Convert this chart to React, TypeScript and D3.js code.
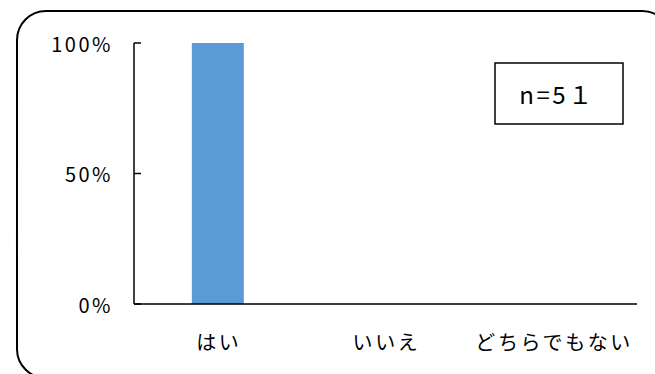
import React from "react";
import * as d3 from "d3";

const categories = ["はい", "いいえ", "どちらでもない"];
const values = [1.0, 0, 0];
const yTicks = [0, 0.5, 1];
const tickLabels = ["0%", "50%", "100%"];
const noteText = "n=5１";

const W = 655;
const H = 374;
const FONT = "'Noto Sans CJK JP', 'Noto Sans', sans-serif";

export default function App() {
  const left = 134, right = 637, top = 43, bottom = 304;
  const x = d3.scaleBand<string>().domain(categories).range([left, right]).paddingInner(0.69).paddingOuter(0.345);
  const xc = d3.scaleBand<string>().domain(categories).range([left, right]);
  const y = d3.scaleLinear().domain([0, 1]).range([bottom, top]);

  return (
    <svg width={W} height={H} style={{ position: "absolute", left: 0, top: 0, background: "#fff" }}>
      <rect x={17} y={11} width={654} height={367} rx={29} ry={29} fill="#fff" stroke="#000" strokeWidth={2} />
      {categories.map((c, i) => (
        <rect key={c} x={x(c)!} y={y(values[i])} width={x.bandwidth()} height={bottom - y(values[i])} fill="#5b9bd5" />
      ))}
      <line x1={left} x2={left} y1={top} y2={bottom} stroke="#000" strokeWidth={1.5} />
      <line x1={left} x2={right} y1={bottom} y2={bottom} stroke="#000" strokeWidth={1.5} />
      {yTicks.map((t, i) => (
        <g key={t}>
          <line x1={left} x2={left + 7} y1={y(t)} y2={y(t)} stroke="#000" strokeWidth={1.5} />
          <text x={113} y={y(t)} textAnchor="end" dominantBaseline="central" fontFamily={FONT} fontSize={20}
            letterSpacing={2.5} fill="#000">
            {tickLabels[i]}
          </text>
        </g>
      ))}
      {categories.map((c) => (
        <text key={c} x={xc(c)! + xc.bandwidth() / 2 + 1} y={341} textAnchor="middle" dominantBaseline="central"
          fontFamily={FONT} fontSize={20} letterSpacing={2.6} fill="#000">
          {c}
        </text>
      ))}
      <rect x={495} y={63} width={128} height={61} fill="#fff" stroke="#000" strokeWidth={1.5} />
      <text x={557} y={93} textAnchor="middle" dominantBaseline="central" fontFamily={FONT} fontSize={24}
        letterSpacing={2.5} fill="#000">
        {noteText}
      </text>
    </svg>
  );
}
